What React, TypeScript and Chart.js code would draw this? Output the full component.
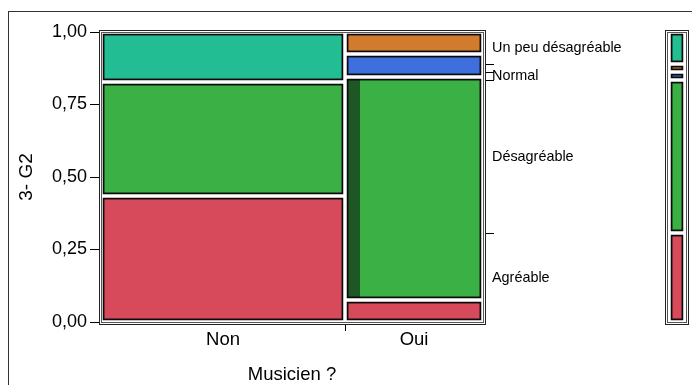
import { useEffect, useRef } from 'react';
import { Chart, registerables } from 'chart.js';

Chart.register(...registerables);

// ---- data ----
const columns = ['Non', 'Oui'];
// response levels, bottom to top (4th level's label is hidden in the reference)
const levels = ['Agréable', 'Désagréable', 'Normal', '', 'Un peu désagréable'];
const levelColors = ['#D64A5B', '#3BB044', '#3F6FDC', '#D37B2C', '#22BD92'];
const highlightColors = ['#7A2A33', '#1F5626', '#23407F', '#7A4719', '#136B53'];
const countsNon = [10, 9, 0, 0, 4];
const countsOui = [1, 10, 1, 1, 0];
const selectedNon = [0, 0, 0, 0, 0];
const selectedOui = [0, 1, 0, 0, 0];
const yTickValues = [0, 0.25, 0.5, 0.75, 1];
const xTitle = 'Musicien ?';
const yTitle = '3- G2';

const FONT = "'Liberation Sans', Arial, sans-serif";

const colCounts = [countsNon, countsOui];
const colSelected = [selectedNon, selectedOui];
const colTotals = colCounts.map((c) => c.reduce((a, b) => a + b, 0));
const grandTotal = colTotals.reduce((a, b) => a + b, 0);
const colBounds: number[][] = [];
{
  let acc = 0;
  colTotals.forEach((t) => {
    colBounds.push([acc / grandTotal, (acc + t) / grandTotal]);
    acc += t;
  });
}
const marginal = levels.map((_, k) => colCounts.reduce((s, c) => s + c[k], 0) / grandTotal);
const marginalBounds: number[][] = [];
{
  let acc = 0;
  marginal.forEach((m) => {
    marginalBounds.push([acc, acc + m]);
    acc += m;
  });
}

const xTickItems = [
  ...colBounds.map((b, i) => ({ value: (b[0] + b[1]) / 2, lbl: columns[i], kind: 'c' })),
  ...colBounds.slice(0, -1).map((b) => ({ value: b[1], lbl: '', kind: 'b' })),
].sort((a, b) => a.value - b.value);

const y2TickItems = [
  ...marginalBounds.map((b, k) => ({ value: (b[0] + b[1]) / 2, lbl: levels[k], kind: 'c' })),
  ...marginalBounds.slice(0, -1).filter((b, k) => marginal[k] > 0).map((b) => ({ value: b[1], lbl: '', kind: 'b' })),
].sort((a, b) => a.value - b.value);

const mosaicPlugin = {
  id: 'mosaic',
  afterDraw(chart: any) {
    const { ctx, chartArea: a, scales } = chart;
    const x = scales.x;
    const y = scales.y;
    const L = Math.round(a.left);
    const R = Math.round(a.right);
    const T = Math.round(a.top);
    const B = Math.round(a.bottom);
    const gap = 2;
    ctx.save();
    ctx.lineWidth = 1;
    const frame = (l: number, t: number, r: number, b: number, col: string) => {
      ctx.strokeStyle = col;
      ctx.strokeRect(l + 0.5, t + 0.5, r - l, b - t);
    };
    // main frame (double line)
    frame(L - 1, T - 1, R + 1, B + 1, '#ffffff');
    frame(L - 2, T - 2, R + 2, B + 2, '#222222');
    frame(L, T, R, B, '#555555');

    const cell = (x0: number, x1: number, y0: number, y1: number, fill: string, hiFrac: number, hiFill: string) => {
      const px0 = Math.round(x0) + gap;
      const px1 = Math.round(x1) - gap;
      const py0 = Math.round(y1) + gap;
      const py1 = Math.round(y0) - gap;
      ctx.fillStyle = fill;
      ctx.fillRect(px0, py0, px1 - px0, py1 - py0);
      if (hiFrac > 0) {
        ctx.fillStyle = hiFill;
        ctx.fillRect(px0, py0, Math.round((px1 - px0) * hiFrac), py1 - py0);
      }
      ctx.strokeStyle = '#0a0a0a';
      ctx.lineWidth = 1.7;
      ctx.strokeRect(px0 + 0.6, py0 + 0.6, px1 - px0 - 1.2, py1 - py0 - 1.2);
      ctx.lineWidth = 1;
    };

    colCounts.forEach((counts, c) => {
      const tot = colTotals[c];
      let acc = 0;
      counts.forEach((n, k) => {
        if (n > 0) {
          const f0 = acc / tot;
          const f1 = (acc + n) / tot;
          cell(
            x.getPixelForValue(colBounds[c][0]),
            x.getPixelForValue(colBounds[c][1]),
            y.getPixelForValue(f0),
            y.getPixelForValue(f1),
            levelColors[k],
            colSelected[c][k] / n,
            highlightColors[k]
          );
        }
        acc += n;
      });
    });

    // marginal side bar
    const sL = R + 182;
    const sR = R + 205;
    frame(sL + 1, T - 1, sR - 1, B + 1, '#ffffff');
    frame(sL, T - 2, sR, B + 2, '#222222');
    frame(sL + 2, T, sR - 2, B, '#555555');
    marginalBounds.forEach((b, k) => {
      if (marginal[k] > 0) {
        cell(sL + 4, sR - 3, y.getPixelForValue(b[0]), y.getPixelForValue(b[1]), levelColors[k], 0, '');
      }
    });
    ctx.restore();
  },
};

export default function App() {
  const ref = useRef<HTMLCanvasElement | null>(null);
  useEffect(() => {
    const canvas = ref.current;
    if (!canvas) return;
    const chart = new Chart(canvas, {
      type: 'scatter',
      data: { datasets: [] },
      options: {
        responsive: false,
        animation: false,
        devicePixelRatio: 1,
        layout: { padding: { top: 32, left: 0, right: 0, bottom: 0 } },
        plugins: { legend: { display: false }, tooltip: { enabled: false } },
        scales: {
          x: {
            type: 'linear',
            position: 'bottom',
            min: 0,
            max: 1,
            afterBuildTicks: (s: any) => {
              s.ticks = xTickItems.map((t) => ({ ...t }));
            },
            afterFit: (s: any) => {
              s.height = 63;
              s.paddingLeft = 0;
              s.paddingRight = 0;
            },
            ticks: {
              autoSkip: false,
              maxRotation: 0,
              padding: -2,
              color: '#000',
              font: { family: FONT, size: 18.5 },
              callback: (_v: any, i: number, ticks: any[]) => ticks[i].lbl,
            },
            grid: {
              drawOnChartArea: false,
              drawTicks: true,
              tickLength: 9,
              tickWidth: 1,
              tickColor: (ctx: any) => (ctx.tick && ctx.tick.kind === 'b' ? '#000' : 'rgba(0,0,0,0)'),
            },
            border: { display: false },
            title: {
              display: true,
              text: xTitle,
              color: '#000',
              font: { family: FONT, size: 18.5 },
              padding: { top: 0, bottom: -1 },
            },
          },
          y: {
            type: 'linear',
            position: 'left',
            min: 0,
            max: 1,
            afterBuildTicks: (s: any) => {
              s.ticks = yTickValues.map((v) => ({ value: v }));
            },
            afterFit: (s: any) => {
              s.width = 101;
              s.paddingTop = 0;
              s.paddingBottom = 0;
            },
            ticks: {
              autoSkip: false,
              padding: 3,
              color: '#000',
              font: { family: FONT, size: 18 },
              callback: (v: any) => Number(v).toFixed(2).replace('.', ','),
            },
            grid: { drawOnChartArea: false, drawTicks: true, tickLength: 11, tickColor: '#000', tickWidth: 1 },
            border: { display: false },
            title: {
              display: true,
              text: yTitle,
              color: '#000',
              font: { family: FONT, size: 19 },
              padding: { top: 15.5, bottom: 0 },
            },
          },
          y2: {
            type: 'linear',
            position: 'right',
            min: 0,
            max: 1,
            afterBuildTicks: (s: any) => {
              s.ticks = y2TickItems.map((t) => ({ ...t }));
            },
            afterFit: (s: any) => {
              s.width = 209;
              s.paddingTop = 0;
              s.paddingBottom = 0;
            },
            ticks: {
              autoSkip: false,
              padding: -2,
              color: '#000',
              font: { family: FONT, size: 14.4 },
              callback: (_v: any, i: number, ticks: any[]) => ticks[i].lbl,
            },
            grid: {
              drawOnChartArea: false,
              drawTicks: true,
              tickLength: 11,
              tickWidth: 1,
              tickColor: (ctx: any) => (ctx.tick && ctx.tick.kind === 'b' ? '#000' : 'rgba(0,0,0,0)'),
            },
            border: { display: false },
          },
        },
      } as any,
      plugins: [mosaicPlugin],
    });
    return () => chart.destroy();
  }, []);

  return (
    <div style={{ position: 'fixed', left: 0, top: 0, width: 692, height: 385, overflow: 'hidden', background: '#fff' }}>
      <div
        style={{
          position: 'absolute',
          left: 8,
          top: 11,
          width: 760,
          height: 460,
          border: '1px solid #333',
          boxSizing: 'border-box',
        }}
      />
      <canvas
        ref={ref}
        width={692}
        height={385}
        style={{ position: 'absolute', left: 0, top: 0, width: 692, height: 385 }}
      />
    </div>
  );
}
